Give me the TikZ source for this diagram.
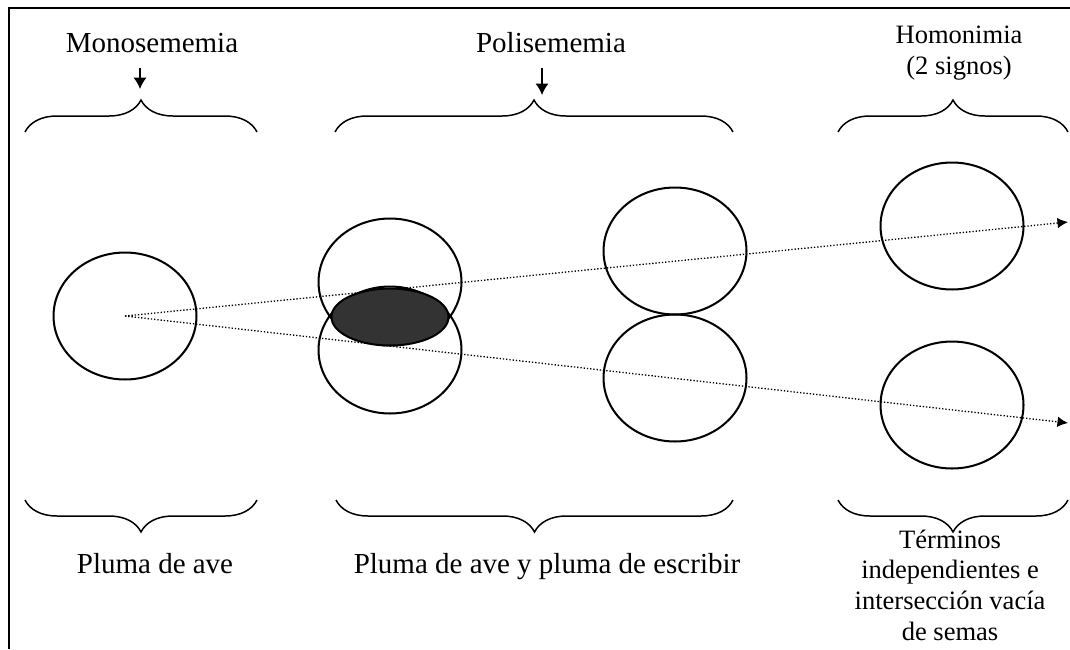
\documentclass[tikz,border=0pt]{standalone}
\usepackage{fontspec}
\setmainfont{Liberation Serif}
\usetikzlibrary{shapes.geometric,arrows.meta,decorations.pathreplacing}

\begin{document}
\begin{tikzpicture}[x=0.02cm, y=-0.02cm,
    sema/.style={ellipse, draw, line width=1.15pt, minimum width=2.86cm, minimum height=2.54cm, inner sep=0pt},
    shared/.style={ellipse, draw, line width=1.15pt, fill=black!80, minimum width=2.34cm, minimum height=1.14cm, inner sep=0pt},
    title/.style={font=\fontsize{16.5}{20}\selectfont, inner sep=0pt, anchor=base},
    note/.style={font=\fontsize{15.1}{17.4}\selectfont, inner sep=0pt, anchor=base, align=center},
    curly/.style={decorate, decoration={brace, amplitude=0.64cm}, line width=0.85pt},
    arrow/.style={-{Latex[length=6.5pt, width=7.5pt]}, line width=0.8pt},
    link/.style={-{Latex[length=6pt, width=6pt]}, line width=0.75pt, dash pattern=on 0.75pt off 1.1pt}
]
    \useasboundingbox (0,0) rectangle (1070,649);

    % Frame
    \draw[line width=0.9pt] (9,649) -- (9,8) -- (1070,8);

    % Top labels
    \node[title] (mono) at (152,52) {Monosememia};
    \node[title] (poli) at (551,52) {Polisememia};
    \node[note] (homo) at (959,74) {Homonimia\\(2 signos)};

    % Top braces
    \draw[curly] (25,132) -- (257,132);
    \draw[curly] (335,132) -- (733,132);
    \draw[curly] (838,132) -- (1068,132);

    % Arrows to the braces
    \coordinate (monotip) at (140,89);
    \coordinate (politip) at (542,95);
    \draw[arrow, shorten <=8.5pt] (mono.south -| monotip) -- (monotip);
    \draw[arrow, shorten <=8.5pt] (poli.south -| politip) -- (politip);

    % Semas
    \node[sema] (mono1) at (125,316) {};
    \node[sema] (polia) at (390,282) {};
    \node[sema] (polib) at (390,350) {};
    \node[sema] (pen1) at (675,251) {};
    \node[sema] (pen2) at (675,378) {};
    \node[sema] (homoa) at (952,226) {};
    \node[sema] (homob) at (952,405) {};

    % Dotted links
    \coordinate (end1) at (1068,222);
    \coordinate (end2) at (1068,423);
    \draw[link] (mono1.center) -- (end1);
    \draw[link] (mono1.center) -- (end2);

    % Shared semas
    \node[shared] (common) at (390,317) {};

    % Bottom braces
    \draw[curly] (257,500) -- (25,500);
    \draw[curly] (733,500) -- (336,500);
    \draw[curly] (1068,500) -- (838,500);

    % Bottom labels
    \node[title] (ave) at (155,573) {Pluma de ave};
    \node[title] (ambas) at (547,573) {Pluma de ave y pluma de escribir};
    \node[note] (indep) at (950,640) {Términos\\independientes e\\intersección vacía\\de semas};
\end{tikzpicture}
\end{document}
